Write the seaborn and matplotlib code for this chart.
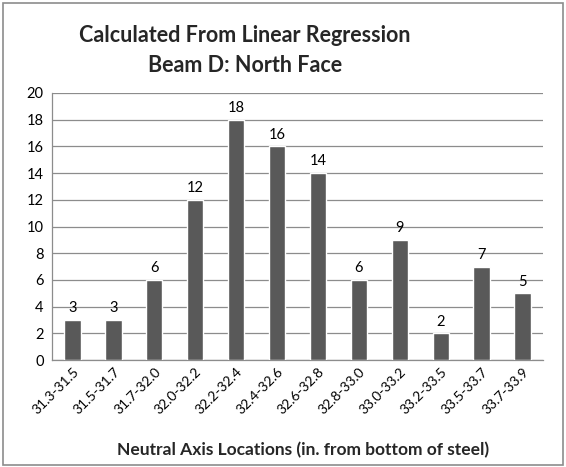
import matplotlib
matplotlib.use("Agg")
import matplotlib.pyplot as plt
import seaborn as sns
import pandas as pd
from matplotlib.patches import Rectangle

categories = ["31.3-31.5", "31.5-31.7", "31.7-32.0", "32.0-32.2", "32.2-32.4", "32.4-32.6",
              "32.6-32.8", "32.8-33.0", "33.0-33.2", "33.2-33.5", "33.5-33.7", "33.7-33.9"]
counts = [3, 3, 6, 12, 18, 16, 14, 6, 9, 2, 7, 5]
y_ticks = [0, 2, 4, 6, 8, 10, 12, 14, 16, 18, 20]

sns.set_theme(style="white")
plt.rcParams['font.family'] = ['Lato', 'DejaVu Sans']

W, H = 566, 467
fig = plt.figure(figsize=(W / 100, H / 100), dpi=100)
ax = fig.add_axes([52 / W, 1 - 360 / H, (543 - 52) / W, (360 - 93) / H])

df = pd.DataFrame({"cat": categories, "n": counts})
sns.barplot(data=df, x="cat", y="n", color="#595959", saturation=1, width=0.4, ax=ax, zorder=3)

ax.set_ylim(0, 20)
ax.set_yticks(y_ticks)
ax.set_yticklabels([str(v) for v in y_ticks], fontsize=10.5)
ax.yaxis.grid(True, color="#8c8c8c", linewidth=0.9, zorder=0)
ax.set_axisbelow(True)
ax.set_xlim(-0.5, len(categories) - 0.5)
for s in ["top", "right"]:
    ax.spines[s].set_visible(False)
for s in ["left", "bottom"]:
    ax.spines[s].set_color("#8c8c8c")
    ax.spines[s].set_linewidth(0.9)
ax.tick_params(axis="both", length=0, pad=6, colors="black")
ax.set_xticks(range(len(categories)))
ax.set_xticklabels(categories, rotation=45, ha="right", rotation_mode="anchor", fontsize=10)
ax.tick_params(axis="x", pad=4)
ax.set_ylabel("")
ax.set_xlabel("")

for i, v in enumerate(counts):
    ax.text(i, v + 0.35, str(v), ha="center", va="bottom", fontsize=10.5, color="black")

fig.text(303 / W, 1 - 450 / H, "Neutral Axis Locations (in. from bottom of steel)",
         ha="center", va="center", fontsize=12.5, fontweight="bold")
fig.text(245 / W, 1 - 35 / H, "Calculated From Linear Regression", ha="center", va="center",
         fontsize=15.5, fontweight="bold")
fig.text(245 / W, 1 - 65 / H, "Beam D: North Face", ha="center", va="center",
         fontsize=15.5, fontweight="bold")

fig.patches.append(Rectangle((3 / W, 2 / H), 1 - 6 / W, 1 - 5 / H, transform=fig.transFigure,
                             fill=False, edgecolor="#8c8c8c", linewidth=1.2))

fig.savefig("out.png", dpi=100, facecolor="white")
